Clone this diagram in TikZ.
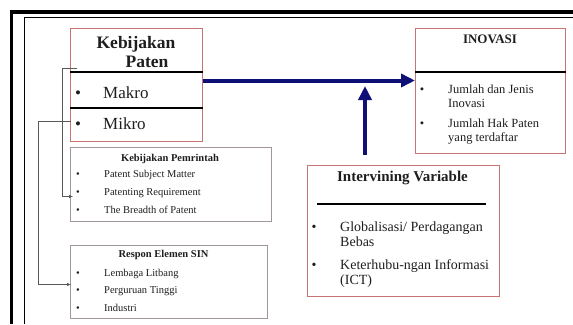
\documentclass[tikz,border=0pt]{standalone}
\usepackage{fontspec}
\setmainfont{Liberation Serif}
\usetikzlibrary{arrows.meta}
\definecolor{boxred}{RGB}{200,115,115}
\definecolor{boxgrey}{RGB}{160,150,156}
\definecolor{navyblue}{RGB}{15,15,120}
\definecolor{inktext}{RGB}{30,30,30}
\tikzset{
  redbox/.style={draw=boxred, line width=1.2pt, anchor=north west, inner sep=0pt},
  greybox/.style={draw=boxgrey, line width=1pt, anchor=north west, inner sep=0pt},
  rule/.style={line width=1.2pt, black},
  bigarrow/.style={navyblue, line width=4pt, -{Triangle[length=14pt,width=13pt]}},
  link/.style={black!65, line width=0.6pt, -{Latex[length=4pt,width=3.5pt]}},
  txt/.style={inner sep=0pt, anchor=base west, text=inktext, align=left},
  mid/.style={inner sep=0pt, anchor=base, text=inktext},
}
\begin{document}
\begin{tikzpicture}[x=1pt,y=-1pt]
	\useasboundingbox (0,0) rectangle (573,324);
	% frame
	\draw[line width=3.6pt] (11.3,324) -- (11.3,11.7) -- (573,11.7);
	\draw[line width=0.8pt] (24.3,324) -- (24.3,17) -- (573,17);
	% Kebijakan Paten
	\node[redbox, minimum width=132pt, minimum height=113pt] (paten) at (70,28) {};
	\draw[rule] (paten.west |- 0,72) -- (paten.east |- 0,72);
	\draw[rule] (paten.west |- 0,108) -- (paten.east |- 0,108);
	\node[mid, font=\fontsize{17.5}{20}\selectfont\bfseries] (patenA) at (136,48) {Kebijakan};
	\node[mid, font=\fontsize{17.5}{20}\selectfont\bfseries] (patenB) at (147,67) {Paten};
	\node[mid, font=\fontsize{17}{20}\selectfont] (makroB) at (78,98) {\textbullet};
	\node[txt, font=\fontsize{17}{20}\selectfont] (makro) at (103,98) {Makro};
	\node[mid, font=\fontsize{17}{20}\selectfont] (mikroB) at (78,129) {\textbullet};
	\node[txt, font=\fontsize{17}{20}\selectfont] (mikro) at (103,129) {Mikro};
	% INOVASI (two-line items: base = last line)
	\node[redbox, minimum width=150pt, minimum height=125pt] (inov) at (415,28) {};
	\draw[rule] (inov.west |- 0,72) -- (inov.east |- 0,72);
	\node[mid, font=\fontsize{13}{15}\selectfont\bfseries] (inovT) at (490,43) {INOVASI};
	\node[mid, font=\fontsize{12.5}{14}\selectfont] (inovB1) at (422,93) {\textbullet};
	\node[txt, font=\fontsize{12.5}{14}\selectfont] (inov1) at (448,107) {Jumlah dan Jenis\\Inovasi};
	\node[mid, font=\fontsize{12.5}{14}\selectfont] (inovB2) at (422,127) {\textbullet};
	\node[txt, font=\fontsize{12.5}{14}\selectfont] (inov2) at (448,141) {Jumlah Hak Paten\\yang terdaftar};
	% Intervining Variable
	\node[redbox, minimum width=192pt, minimum height=131pt] (interv) at (307,165) {};
	\draw[rule] (317,204) -- (486,204);
	\node[mid, font=\fontsize{15}{17}\selectfont\bfseries] (intervT) at (402.5,181) {Intervining Variable};
	\node[mid, font=\fontsize{14}{15}\selectfont] (intervB1) at (314,231) {\textbullet};
	\node[txt, font=\fontsize{14}{15}\selectfont] (interv1) at (340,246) {Globalisasi/ Perdagangan\\Bebas};
	\node[mid, font=\fontsize{14}{15}\selectfont] (intervB2) at (314,269) {\textbullet};
	\node[txt, font=\fontsize{14}{15}\selectfont] (interv2) at (340,284) {Keterhubu-ngan Informasi\\(ICT)};
	% Kebijakan Pemrintah
	\node[greybox, minimum width=201pt, minimum height=74pt] (pemr) at (70,147) {};
	\node[mid, font=\fontsize{10.5}{12}\selectfont\bfseries] (pemrT) at (170,161) {Kebijakan Pemrintah};
	\foreach \item [count=\k] in {Patent Subject Matter, Patenting Requirement, The Breadth of Patent}
	{
		\node[mid, font=\fontsize{10.5}{12}\selectfont] (pemrB\k) at (78,{159.5+18*\k}) {\textbullet};
		\node[txt, font=\fontsize{10.5}{12}\selectfont] (pemr\k) at (104,{159.5+18*\k}) {\item};
	}
	% Respon Elemen SIN
	\node[greybox, minimum width=197pt, minimum height=73pt] (respon) at (70,245) {};
	\node[mid, font=\fontsize{10.5}{12}\selectfont\bfseries] (responT) at (163.5,257) {Respon Elemen SIN};
	\foreach \item [count=\k] in {Lembaga Litbang, Perguruan Tinggi, Industri}
	{
		\node[mid, font=\fontsize{10.5}{12}\selectfont] (responB\k) at (78,{258.5+17.5*\k}) {\textbullet};
		\node[txt, font=\fontsize{10.5}{12}\selectfont] (respon\k) at (104,{258.5+17.5*\k}) {\item};
	}
	% arrows
	\draw[bigarrow] (paten.east |- 0,80.5) -- (inov.west |- 0,80.5);
	\coordinate (ivfoot) at (365,155);
	\coordinate (ivtip) at (365,86);
	\draw[bigarrow] (ivfoot) -- (ivtip);
	\coordinate (k1) at (77,68);
	\coordinate (k2) at (73,196.5);
	\draw[link] (k1) -- ++(-15,0) |- (k2);
	\coordinate (m1) at (71,121);
	\coordinate (m2) at (71,284.5);
	\draw[link] (m1) -- ++(-33,0) |- (m2);
\end{tikzpicture}
\end{document}
